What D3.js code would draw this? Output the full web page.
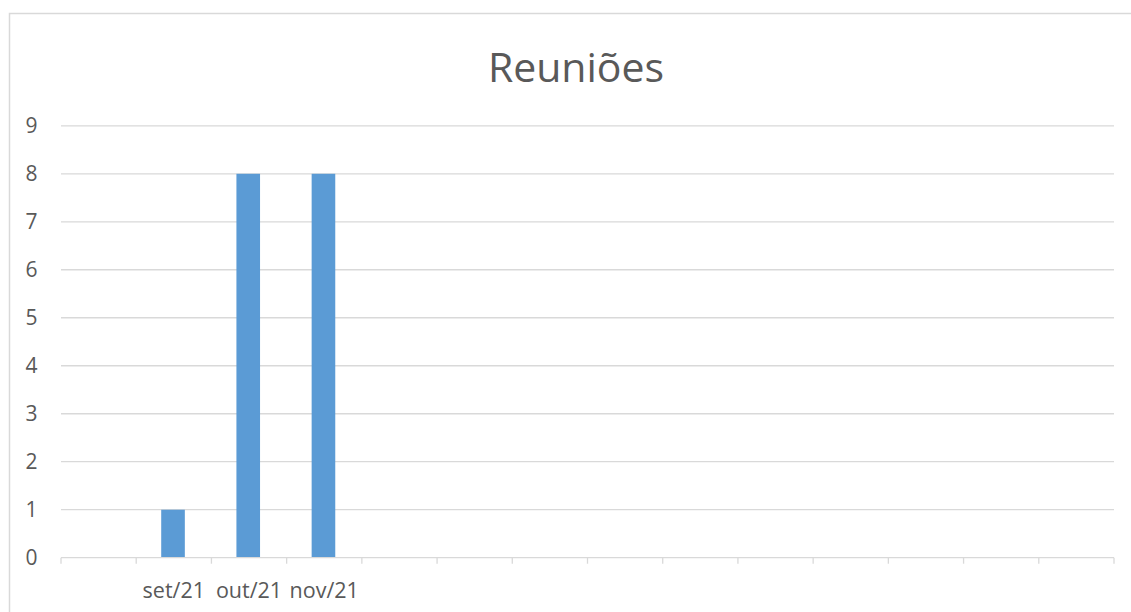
<!DOCTYPE html>
<html><head><meta charset="utf-8">
<script src="https://cdn.jsdelivr.net/npm/d3@7"></script>
<style>body{margin:0;background:#fff;} text{font-family:"Open Sans",sans-serif;fill:#595959;}</style>
</head><body>
<svg id="c" width="1131" height="612"></svg>
<script>
const title = "Reuniões";
const categories = ["", "set/21", "out/21", "nov/21", "", "", "", "", "", "", "", "", "", ""];
const values = [null, 1, 8, 8, null, null, null, null, null, null, null, null, null, null];
const yTicks = [0,1,2,3,4,5,6,7,8,9];

const svg = d3.select("#c");
const m = {left: 61, right: 1114, top: 125.8, bottom: 557.7};
svg.append("rect").attr("x",9.5).attr("y",13.5).attr("width",1300).attr("height",800)
  .attr("fill","none").attr("stroke","#D9D9D9").attr("stroke-width",1.5);

const idx = categories.map((d,i)=>i);
const x = d3.scaleBand().domain(idx).range([m.left, m.right]).paddingInner(0).paddingOuter(0);
const y = d3.scaleLinear().domain([0,9]).range([m.bottom, m.top]);

// gridlines
svg.append("g").selectAll("line").data(yTicks.filter(t=>t>0)).join("line")
  .attr("x1",m.left).attr("x2",m.right).attr("y1",d=>y(d)).attr("y2",d=>y(d))
  .attr("stroke","#D9D9D9").attr("stroke-width",1.3);

// y labels
svg.append("g").selectAll("text").data(yTicks).join("text")
  .attr("x",37.5).attr("y",d=>y(d)).attr("dy","0.36em").attr("text-anchor","end")
  .attr("font-size",21).text(d=>d);

// bars
const bw = x.bandwidth()*0.314;
svg.append("g").selectAll("rect").data(idx.filter(i=>values[i]!=null)).join("rect")
  .attr("x",i=>x(i)+x.bandwidth()/2-bw/2 - 0.8).attr("width",bw)
  .attr("y",i=>y(values[i])).attr("height",i=>y(0)-y(values[i]))
  .attr("fill","#5B9BD5");

// x axis line and ticks
svg.append("line").attr("x1",m.left).attr("x2",m.right).attr("y1",m.bottom).attr("y2",m.bottom)
  .attr("stroke","#D9D9D9").attr("stroke-width",1.3);
const bounds = idx.map(i=>x(i)).concat([m.right]);
svg.append("g").selectAll("line").data(bounds).join("line")
  .attr("x1",d=>d).attr("x2",d=>d).attr("y1",m.bottom).attr("y2",m.bottom+6)
  .attr("stroke","#D9D9D9").attr("stroke-width",1.3);

// x labels
svg.append("g").selectAll("text").data(idx).join("text")
  .attr("x",i=>x(i)+x.bandwidth()/2).attr("y",597.5).attr("text-anchor","middle")
  .attr("font-size",21.5).text(i=>categories[i]);

// title
svg.append("text").attr("x",576).attr("y",81.5).attr("text-anchor","middle")
  .attr("font-size",41).text(title);
</script>
</body></html>
